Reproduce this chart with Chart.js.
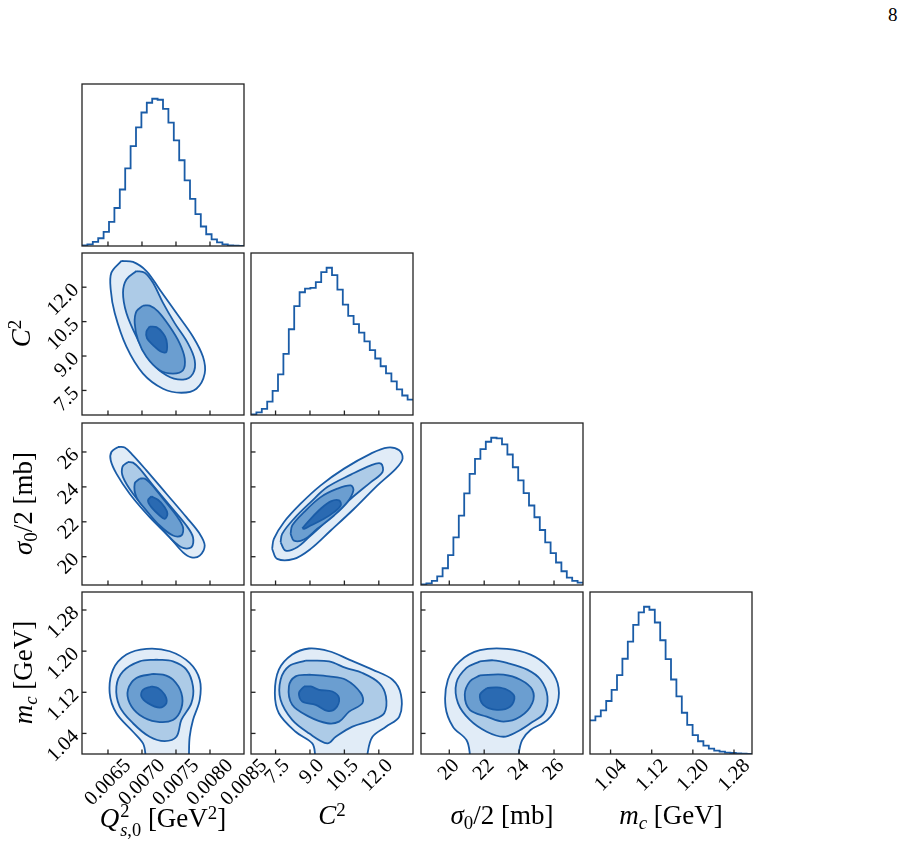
<!DOCTYPE html>
<html><head><meta charset="utf-8">
<script src="https://cdn.jsdelivr.net/npm/chart.js@4.4.0/dist/chart.umd.min.js"></script>
<style>
html,body{margin:0;padding:0;background:#fff;}
body{width:907px;height:841px;position:relative;overflow:hidden;font-family:'Liberation Serif','DejaVu Serif',serif;color:#000;}
canvas{position:absolute;}
.lab{position:absolute;font-size:27px;line-height:1;white-space:nowrap;text-align:center;width:240px;height:27px;}
.m{font-style:italic;}
.ss{display:inline-block;font-size:0.68em;line-height:1.05;vertical-align:-0.5em;text-align:left;margin-left:1px;}
.sub{font-size:0.7em;vertical-align:-0.28em;line-height:0;}
.sup{font-size:0.7em;vertical-align:0.45em;line-height:0;}
.pg{position:absolute;left:888px;top:4px;font-size:19px;}
</style>
</head><body>
<div class="pg">8</div>
<script>
// ---------------- data ----------------
// axis ranges
const qRange = [0.006118, 0.0085];
const c2Range = [6.43, 13.49];
const sigRange = [18.38, 27.66];
const mcRange = [1.0, 1.315];

// tick values and labels
const qTicks = [0.0065, 0.0070, 0.0075, 0.0080, 0.0085];
const qTickLabels = ['0.0065', '0.0070', '0.0075', '0.0080', '0.0085'];
const c2Ticks = [7.5, 9.0, 10.5, 12.0];
const c2TickLabels = ['7.5', '9.0', '10.5', '12.0'];
const sigTicks = [20, 22, 24, 26];
const sigTickLabels = ['20', '22', '24', '26'];
const mcTicks = [1.04, 1.12, 1.20, 1.28];
const mcTickLabels = ['1.04', '1.12', '1.20', '1.28'];

// 1D marginal histograms (30 bins over each axis range)
const qHist = [2,5,12,23,42,72,113,168,231,297,353,397,426,438,435,408,367,314,255,195,140,95,58,35,20,11,5,2,1,0];
const c2Hist = [2,8,18,40,72,121,182,255,324,365,376,378,395,425,438,416,373,328,295,270,245,219,193,168,145,124,100,76,58,46];
const sigHist = [2,5,12,26,50,89,142,207,273,331,376,405,427,439,437,419,389,351,312,274,237,202,164,127,95,67,41,22,12,7];
const mcHist = [100,112,130,158,191,235,284,335,385,422,439,430,392,339,283,222,172,123,87,56,38,25,16,10,7,4,3,2,1,0];

// 2D contours (outer -> inner), points [x, y]
const qC2_1 = [[0.006697,13.144],[0.00655,12.633],[0.00654,11.899],[0.006599,10.874],[0.006771,9.405],[0.007015,8.234],[0.007309,7.575],[0.007579,7.399],[0.0078,7.575],[0.007922,8.234],[0.007897,8.965],[0.00775,9.844],[0.007506,10.874],[0.00726,11.899],[0.007065,12.704],[0.006868,13.1]];
const qC2_2 = [[0.006918,12.704],[0.006771,12.339],[0.006721,11.754],[0.006771,10.874],[0.006918,9.844],[0.007113,8.82],[0.007359,8.16],[0.007603,7.97],[0.00775,8.234],[0.007775,8.82],[0.007676,9.554],[0.007481,10.434],[0.007309,11.314],[0.007162,12.194],[0.00704,12.633]];
const qC2_3 = [[0.007015,11.195],[0.006918,10.944],[0.006893,10.434],[0.006941,9.699],[0.007065,8.965],[0.00726,8.38],[0.007456,8.234],[0.007603,8.38],[0.007628,8.894],[0.007554,9.554],[0.007407,10.284],[0.007235,10.944],[0.007113,11.195]];
const qC2_4 = [[0.007113,10.284],[0.007065,10.064],[0.007074,9.774],[0.007162,9.479],[0.007285,9.185],[0.007359,9.185],[0.007359,9.699],[0.007309,9.994],[0.007212,10.258]];

const qSig_1 = [[0.006647,26.287],[0.00655,26.0],[0.00654,25.523],[0.006624,24.759],[0.006819,23.609],[0.007113,22.264],[0.007407,21.115],[0.007603,20.253],[0.007726,19.966],[0.007849,20.063],[0.007922,20.638],[0.007849,21.31],[0.007653,22.264],[0.007359,23.609],[0.007065,24.948],[0.006868,25.81],[0.006746,26.253]];
const qSig_2 = [[0.006794,25.425],[0.006712,25.138],[0.006721,24.563],[0.006868,23.609],[0.007113,22.46],[0.007359,21.31],[0.007579,20.54],[0.007726,20.54],[0.00775,21.115],[0.007653,21.787],[0.007407,22.937],[0.007162,24.086],[0.006966,25.046],[0.006868,25.391]];
const qSig_3 = [[0.006966,24.471],[0.006893,24.184],[0.006918,23.414],[0.007065,22.649],[0.00726,21.787],[0.007456,21.213],[0.007579,21.213],[0.007603,21.69],[0.007506,22.362],[0.007309,23.322],[0.007138,24.144],[0.00704,24.471]];
const qSig_4 = [[0.007138,23.454],[0.007088,23.224],[0.007138,22.839],[0.00726,22.362],[0.007334,22.173],[0.007374,22.46],[0.007334,22.839],[0.007235,23.264]];

const qMc_1 = [[0.00706,0.97],[0.00705,1.0],[0.007015,1.0206],[0.006868,1.0433],[0.006624,1.0793],[0.006525,1.1184],[0.006574,1.164],[0.006771,1.1933],[0.007065,1.2045],[0.007407,1.1998],[0.007701,1.1771],[0.007849,1.1444],[0.007849,1.1053],[0.00775,1.0662],[0.007701,1.0335],[0.007691,1.0],[0.00769,0.97]];
const qMc_2 = [[0.007212,1.1836],[0.006966,1.1802],[0.006721,1.1607],[0.006624,1.1313],[0.006672,1.0922],[0.006868,1.0598],[0.007113,1.0335],[0.007334,1.0251],[0.007506,1.0335],[0.007579,1.0662],[0.007726,1.0989],[0.00775,1.1313],[0.007653,1.164],[0.007456,1.1802]];
const qMc_3 = [[0.007162,1.1556],[0.006918,1.1478],[0.006794,1.1249],[0.006819,1.0989],[0.006966,1.076],[0.007212,1.0629],[0.007456,1.0662],[0.007579,1.0891],[0.007579,1.1184],[0.007456,1.1444],[0.007309,1.1542]];
const qMc_4 = [[0.007138,1.1313],[0.007015,1.1249],[0.006991,1.1118],[0.007088,1.0989],[0.00726,1.0903],[0.007359,1.0989],[0.007334,1.1151],[0.007235,1.1282]];

const c2Sig_1 = [[7.351,20.448],[7.426,21.023],[7.863,21.977],[8.593,23.035],[9.468,24.086],[10.487,25.046],[11.654,25.908],[12.38,26.253],[12.892,26.098],[13.036,25.621],[12.748,25.046],[11.943,24.086],[10.924,22.747],[9.905,21.5],[9.031,20.448],[8.3,19.874],[7.57,19.874]];
const c2Sig_2 = [[7.719,20.828],[7.789,21.31],[8.3,22.173],[9.031,23.127],[9.756,23.989],[10.78,24.701],[11.654,25.236],[12.092,25.333],[12.162,24.851],[11.654,24.276],[10.78,23.322],[9.905,22.264],[9.031,21.213],[8.445,20.54],[7.937,20.351]];
const c2Sig_3 = [[8.156,21.31],[8.226,21.787],[8.738,22.552],[9.468,23.414],[10.194,23.897],[10.78,24.086],[10.893,23.799],[10.631,23.127],[10.049,22.362],[9.319,21.598],[8.738,20.983],[8.3,20.925]];
const c2Sig_4 = [[8.663,21.632],[9.031,22.173],[9.468,22.747],[9.905,23.167],[10.268,23.224],[10.342,22.937],[10.049,22.552],[9.612,22.173],[9.031,21.787],[8.738,21.598]];

const c2Mc_1 = [[9.25,0.97],[9.219,1.0],[9.1,1.0206],[8.375,1.0433],[7.644,1.0793],[7.469,1.1184],[7.644,1.164],[8.226,1.1933],[8.956,1.2051],[9.831,1.1998],[10.705,1.1836],[11.724,1.164],[12.599,1.1444],[12.966,1.1151],[12.892,1.0727],[12.31,1.0531],[11.724,1.0335],[11.506,1.0],[11.48,0.97]];
const c2Mc_2 = [[8.812,1.1816],[8.082,1.1705],[7.719,1.1444],[7.719,1.1053],[8.226,1.0662],[8.956,1.0402],[9.756,1.0206],[10.124,1.0335],[10.85,1.0531],[11.724,1.0662],[12.236,1.0793],[12.31,1.1118],[12.017,1.138],[11.287,1.1576],[10.561,1.1673],[9.831,1.1802]];
const c2Mc_3 = [[8.956,1.1542],[8.375,1.1509],[8.082,1.1313],[8.226,1.0956],[8.956,1.0727],[9.756,1.0598],[10.268,1.0629],[10.705,1.0824],[11.287,1.0989],[11.217,1.1184],[10.561,1.1444],[9.831,1.1509]];
const c2Mc_4 = [[8.738,1.1313],[8.519,1.1184],[8.663,1.102],[9.249,1.0956],[9.756,1.0838],[10.124,1.0891],[10.268,1.1087],[9.975,1.1216],[9.394,1.1249],[9.031,1.1313]];

const sigMc_1 = [[21.2,0.97],[21.177,1.0],[20.985,1.0271],[20.209,1.0531],[19.786,1.0922],[19.919,1.1444],[20.597,1.1802],[21.757,1.2018],[23.304,1.2045],[24.655,1.1933],[25.623,1.1705],[26.203,1.138],[26.203,1.0989],[25.623,1.0662],[24.655,1.0467],[24.174,1.0271],[23.977,1.0],[23.95,0.97]];
const sigMc_2 = [[21.757,1.1802],[20.985,1.1673],[20.406,1.138],[20.499,1.0989],[21.177,1.0662],[22.145,1.0433],[23.107,1.0335],[23.884,1.0433],[24.655,1.0598],[25.426,1.0793],[25.623,1.1118],[25.235,1.1444],[24.464,1.164],[23.304,1.1771],[22.527,1.1822]];
const sigMc_3 = [[21.757,1.1529],[21.177,1.1411],[20.887,1.1151],[21.177,1.0858],[22.145,1.0727],[23.107,1.0629],[24.075,1.0727],[24.754,1.0989],[24.754,1.1249],[24.075,1.1444],[23.107,1.1542]];
const sigMc_4 = [[22.145,1.1282],[21.757,1.1151],[21.948,1.0956],[22.725,1.0858],[23.496,1.0922],[23.727,1.1118],[23.304,1.1249],[22.725,1.1294]];

// ---------------- styling / layout ----------------
const LINE = '#1a5ca7';
const FILLS = ['#e1ecf7', '#adcbe7', '#6b9ed0', '#2a6ab2'];
const PANEL = 162;
const colX = [82, 251, 421, 590];
const rowY = [84, 253, 423, 592];
const M = 95, T = 6, R = 45, B = 95;
const TICK_FONT = {family: "'Liberation Serif', 'DejaVu Serif', serif", size: 20.5};

const axes = [
  {range: qRange, ticks: qTicks, labels: qTickLabels, xOff: 20},
  {range: c2Range, ticks: c2Ticks, labels: c2TickLabels, xOff: 11},
  {range: sigRange, ticks: sigTicks, labels: sigTickLabels, xOff: 7},
  {range: mcRange, ticks: mcTicks, labels: mcTickLabels, xOff: 13}
];

const framePlugin = {
  id: 'frame',
  afterDatasetsDraw(chart, args, o) {
    const {ctx, chartArea: a} = chart;
    ctx.save();
    ctx.strokeStyle = '#222';
    ctx.lineWidth = 1.3;
    const TL = 4.5;
    const xs = chart.scales.x;
    xs.ticks.forEach(t => {
      const px = xs.getPixelForValue(t.value);
      if (px > a.left + 1 && px < a.right - 1) {
        ctx.beginPath(); ctx.moveTo(px, a.bottom); ctx.lineTo(px, a.bottom - TL); ctx.stroke();
      }
    });
    if (o.yTicks) {
      const ys = chart.scales.y;
      ys.ticks.forEach(t => {
        const py = ys.getPixelForValue(t.value);
        if (py > a.top + 1 && py < a.bottom - 1) {
          ctx.beginPath(); ctx.moveTo(a.left, py); ctx.lineTo(a.left + TL, py); ctx.stroke();
        }
      });
    }
    ctx.strokeRect(a.left, a.top, a.right - a.left, a.bottom - a.top);
    ctx.restore();
  }
};

function closeLoop(pts) { return pts.concat([pts[0]]); }

function contourSets(levels) {
  return levels.map((pts, i) => ({
    data: closeLoop(pts).map(p => ({x: p[0], y: p[1]})),
    showLine: true, fill: 'shape', backgroundColor: FILLS[i],
    borderColor: LINE, borderWidth: 1.8, pointRadius: 0,
    tension: 0.35, capBezierPoints: false, order: 10 - i
  }));
}

function histSet(counts, range) {
  const n = counts.length, w = (range[1] - range[0]) / n;
  const pts = counts.map((c, i) => ({x: range[0] + i * w, y: c}));
  pts.push({x: range[1], y: counts[n - 1]});
  return [{data: pts, showLine: true, stepped: 'before', borderColor: LINE, borderWidth: 1.8, pointRadius: 0, fill: false}];
}

function panel(col, row, datasets, isHist) {
  const cv = document.createElement('canvas');
  cv.width = M + PANEL + R; cv.height = T + PANEL + B;
  cv.style.left = (colX[col] - M) + 'px';
  cv.style.top = (rowY[row] - T) + 'px';
  cv.style.width = cv.width + 'px'; cv.style.height = cv.height + 'px';
  document.body.appendChild(cv);
  const ax = axes[col];
  const ay = isHist ? null : axes[row];
  const showX = row === 3;
  const showY = col === 0 && !isHist;
  let yMin, yMax;
  if (isHist) { yMin = 0; yMax = 1.1 * Math.max(...datasets[0].data.map(p => p.y)); }
  else { yMin = ay.range[0]; yMax = ay.range[1]; }
  new Chart(cv, {
    type: 'scatter',
    data: {datasets},
    options: {
      responsive: false, animation: false, devicePixelRatio: 1,
      layout: {padding: {left: 0, top: T, right: R, bottom: 0}},
      plugins: {legend: {display: false}, tooltip: {enabled: false}, frame: {yTicks: !isHist}},
      scales: {
        x: {
          type: 'linear', position: 'bottom', min: ax.range[0], max: ax.range[1],
          afterBuildTicks(s) { s.ticks = ax.ticks.map(v => ({value: v})); },
          afterFit(s) { s.height = B; s.paddingLeft = 0; s.paddingRight = 0; s.paddingTop = 0; s.paddingBottom = 0; },
          grid: {display: false, drawTicks: false}, border: {display: false},
          ticks: {display: showX, autoSkip: false, minRotation: 45, maxRotation: 45, padding: 0,
                  labelOffset: ax.xOff, color: '#000', font: TICK_FONT,
                  callback: (v, i) => ax.labels[i]}
        },
        y: {
          type: 'linear', position: 'left', min: yMin, max: yMax,
          afterBuildTicks(s) { s.ticks = isHist ? [] : ay.ticks.map(v => ({value: v})); },
          afterFit(s) { s.width = M; s.paddingLeft = 0; s.paddingRight = 0; s.paddingTop = 0; s.paddingBottom = 0; },
          grid: {display: false, drawTicks: false}, border: {display: false},
          ticks: {display: showY, autoSkip: false, minRotation: 45, maxRotation: 45, padding: 6,
                  color: '#000', font: TICK_FONT,
                  callback: (v, i) => (ay ? ay.labels[i] : '')}
        }
      }
    },
    plugins: [framePlugin]
  });
}

// diagonal
panel(0, 0, histSet(qHist, qRange), true);
panel(1, 1, histSet(c2Hist, c2Range), true);
panel(2, 2, histSet(sigHist, sigRange), true);
panel(3, 3, histSet(mcHist, mcRange), true);
// off-diagonal
panel(0, 1, contourSets([qC2_1, qC2_2, qC2_3, qC2_4]), false);
panel(0, 2, contourSets([qSig_1, qSig_2, qSig_3, qSig_4]), false);
panel(1, 2, contourSets([c2Sig_1, c2Sig_2, c2Sig_3, c2Sig_4]), false);
panel(0, 3, contourSets([qMc_1, qMc_2, qMc_3, qMc_4]), false);
panel(1, 3, contourSets([c2Mc_1, c2Mc_2, c2Mc_3, c2Mc_4]), false);
panel(2, 3, contourSets([sigMc_1, sigMc_2, sigMc_3, sigMc_4]), false);
</script>
<!-- axis titles -->
<div class="lab" style="left:43px;top:802px;"><span class="m">Q</span><span class="ss">2<br><span class="m">s</span>,0</span> [GeV<span class="sup">2</span>]</div>
<div class="lab" style="left:212px;top:802px;"><span class="m">C</span><span class="sup">2</span></div>
<div class="lab" style="left:382px;top:802px;"><span class="m">σ</span><span class="sub">0</span>/2 [mb]</div>
<div class="lab" style="left:551px;top:802px;"><span class="m">m</span><span class="sub m">c</span> [GeV]</div>
<div class="lab" style="left:-99px;top:320px;transform:rotate(-90deg);"><span class="m">C</span><span class="sup">2</span></div>
<div class="lab" style="left:-97px;top:490px;transform:rotate(-90deg);"><span class="m">σ</span><span class="sub">0</span>/2 [mb]</div>
<div class="lab" style="left:-97px;top:659px;transform:rotate(-90deg);"><span class="m">m</span><span class="sub m">c</span> [GeV]</div>
</body></html>
